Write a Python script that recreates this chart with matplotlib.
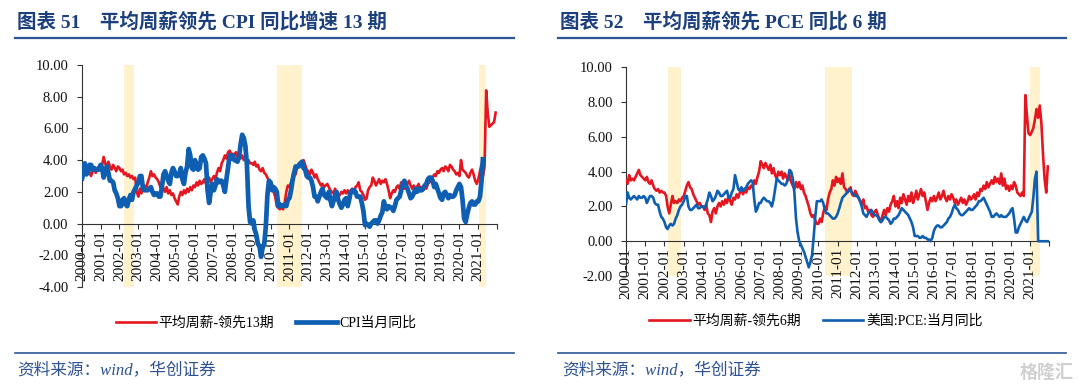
import numpy as np
import pandas as pd
import matplotlib
matplotlib.use("Agg")
import matplotlib.pyplot as plt
from matplotlib.lines import Line2D

SERIF_CJK = ['Liberation Serif', 'Noto Sans CJK SC']

# ---- data (monthly, starting 2000-01) ----
wage_lead13 = [
    3.3, 3.0, 3.4, 3.1, 3.5, 3.2, 3.0, 3.3, 3.4, 3.2, 3.5, 3.6,
    3.6, 3.7, 4.2, 3.8, 3.5, 3.9, 3.6, 3.4, 3.7, 3.5, 3.3, 3.6,
    3.5, 3.3, 3.4, 3.1, 3.2, 3.0, 3.1, 2.9, 3.0, 2.8, 2.9, 2.0,
    1.7, 2.2, 1.9, 2.3, 2.4, 2.2, 2.6, 2.9, 3.3, 3.0, 3.1, 2.9,
    2.8, 2.6, 2.3, 2.5, 2.2, 2.0, 2.3, 1.9, 2.1, 1.8, 1.9, 1.6,
    1.4, 1.2, 1.7, 2.0, 1.8, 2.1, 1.9, 2.2, 2.0, 2.3, 2.1, 2.4,
    2.3, 2.6, 2.4, 2.7, 2.5, 2.6, 2.8, 2.5, 2.7, 2.9, 2.6, 2.8,
    3.0, 2.8, 3.2, 3.5, 3.3, 3.8, 4.0, 4.3, 4.1, 4.5, 4.6, 4.4,
    4.4, 4.3, 4.5, 4.2, 4.4, 4.1, 4.3, 4.0, 4.2, 3.9, 4.0, 3.8,
    3.8, 3.7, 3.9, 3.6, 3.7, 3.4, 3.3, 3.5, 3.2, 3.1, 2.9, 2.7,
    2.6, 2.3, 2.0, 1.7, 1.1, 1.0, 0.9, 1.0, 0.9, 1.3, 2.0, 2.4,
    2.3, 2.6, 2.9, 3.3, 3.1, 3.6, 3.8, 3.7, 3.9, 4.0, 3.7, 3.4,
    3.3, 3.1, 3.4, 3.2, 2.9, 3.1, 2.8, 2.6, 2.4, 2.5, 2.3, 2.4,
    2.5, 2.3, 2.1, 2.0, 1.9, 2.2, 1.9, 1.7, 1.8, 2.0, 1.9, 2.1,
    1.9, 2.1, 1.8, 2.0, 2.2, 1.9, 2.3, 2.4, 2.6, 2.1, 2.0, 1.8,
    1.5, 1.6, 2.1, 2.3, 2.4, 2.9, 2.7, 2.4, 2.6, 2.8, 2.5, 2.7,
    2.6, 2.8, 2.5, 2.1, 1.6, 1.9, 2.1, 2.0, 2.3, 2.4, 2.2, 2.6,
    2.4, 2.2, 2.3, 2.5, 2.7, 2.4, 2.2, 2.4, 2.0, 2.3, 2.5, 2.2,
    2.3, 2.1, 2.4, 2.2, 2.5, 2.6, 2.8, 2.9, 3.1, 3.0, 3.3, 3.2,
    3.4, 3.5, 3.3, 3.6, 3.5, 3.3, 3.7, 3.6, 3.4, 3.3, 3.1, 3.2,
    3.0, 4.0, 3.4, 3.3, 3.2, 3.0, 2.9, 3.2, 3.4, 3.1, 2.7, 2.5,
    2.8, 3.3, 3.7, 3.0, 3.6, 8.4, 7.0, 6.1, 6.2, 6.3, 6.4, 7.0,
]

cpi_yoy = [
    2.7, 3.2, 3.8, 3.1, 3.2, 3.7, 3.7, 3.4, 3.5, 3.4, 3.4, 3.4,
    3.7, 3.5, 2.9, 3.3, 3.6, 3.2, 2.7, 2.7, 2.6, 2.1, 1.9, 1.6,
    1.1, 1.1, 1.5, 1.6, 1.2, 1.1, 1.5, 1.8, 1.5, 2.0, 2.2, 2.4,
    2.6, 3.0, 3.0, 2.2, 2.1, 2.1, 2.1, 2.2, 2.3, 2.0, 1.8, 1.9,
    1.9, 1.7, 1.7, 2.3, 3.1, 3.3, 3.0, 2.7, 2.5, 3.2, 3.5, 3.3,
    3.0, 3.0, 3.1, 3.5, 2.8, 2.5, 3.2, 3.6, 4.7, 4.3, 3.5, 3.4,
    4.0, 3.6, 3.4, 3.5, 4.2, 4.3, 4.1, 3.8, 2.1, 1.3, 2.0, 2.5,
    2.1, 2.4, 2.8, 2.6, 2.7, 2.7, 2.4, 2.0, 2.8, 3.5, 4.3, 4.1,
    4.3, 4.0, 4.0, 3.9, 4.2, 5.0, 5.6, 5.4, 4.9, 3.7, 1.1, 0.1,
    0.0, 0.2, -0.4, -0.7, -1.3, -1.4, -2.1, -1.5, -1.3, -0.2, 1.8, 2.7,
    2.6, 2.1, 2.3, 2.2, 2.0, 1.1, 1.2, 1.1, 1.1, 1.2, 1.1, 1.5,
    1.6, 2.1, 2.7, 3.2, 3.6, 3.6, 3.6, 3.8, 3.9, 3.5, 3.4, 3.0,
    2.9, 2.9, 2.7, 2.3, 1.7, 1.7, 1.4, 1.7, 2.0, 2.2, 1.8, 1.7,
    1.6, 2.0, 1.5, 1.1, 1.4, 1.8, 2.0, 1.5, 1.2, 1.0, 1.2, 1.5,
    1.6, 1.1, 1.5, 2.0, 2.1, 2.1, 2.0, 1.7, 1.7, 1.7, 1.3, 0.8,
    -0.1, 0.0, -0.1, -0.2, 0.0, 0.1, 0.2, 0.2, 0.0, 0.2, 0.5, 0.7,
    1.4, 1.0, 0.9, 1.1, 1.0, 1.0, 0.8, 1.1, 1.5, 1.6, 1.7, 2.1,
    2.5, 2.7, 2.4, 2.2, 1.9, 1.6, 1.7, 1.9, 2.2, 2.0, 2.2, 2.1,
    2.1, 2.2, 2.4, 2.5, 2.8, 2.9, 2.9, 2.7, 2.3, 2.5, 2.2, 1.9,
    1.6, 1.5, 1.9, 2.0, 1.8, 1.6, 1.8, 1.7, 1.7, 1.8, 2.1, 2.3,
    2.5, 2.3, 1.5, 0.3, 0.1, 0.6, 1.0, 1.3, 1.4, 1.2, 1.2, 1.4,
    1.4, 1.7, 2.6, 4.2,
]

wage_lead6 = [
    3.5, 3.3, 3.8, 3.5, 3.6, 3.5, 3.7, 3.9, 4.1, 3.8, 3.7, 3.6,
    3.5, 3.7, 3.4, 3.3, 3.5, 3.2, 3.0, 2.9, 3.0, 2.8, 2.9, 2.8,
    2.8, 2.6, 2.0, 1.6, 2.1, 2.6, 2.2, 2.3, 2.2, 2.4, 2.3, 2.5,
    2.6, 2.9, 3.2, 3.4, 3.1, 3.0, 2.7, 2.5, 2.3, 2.1, 2.2, 2.0,
    2.0, 1.8, 2.1, 1.6, 1.5, 1.1, 1.7, 1.9, 1.6, 2.0, 2.2, 2.0,
    2.3, 2.1, 2.4, 2.2, 2.6, 2.3, 2.1, 2.5, 2.4, 2.7, 2.5, 2.8,
    2.9, 2.7, 3.0, 2.8, 3.1, 3.0, 3.2, 3.1, 3.5, 3.3, 3.7, 4.0,
    4.6, 4.4, 4.2, 4.5, 4.3, 4.1, 4.4, 3.9, 4.2, 3.8, 3.6, 4.0,
    3.8, 4.0, 3.6, 3.9, 3.7, 3.5, 3.8, 3.4, 3.2, 3.0, 3.4, 3.1,
    3.4, 3.0, 3.2, 2.8, 2.6, 2.3, 2.0, 1.6, 1.4, 1.5, 1.2, 1.0,
    1.0, 1.3, 1.1, 1.6, 2.0, 1.8, 2.4, 2.8, 3.0, 3.5, 3.2, 3.7,
    3.4, 3.6, 3.3, 3.9, 3.1, 3.0, 2.8, 2.9, 3.1, 2.7, 2.6, 2.9,
    2.7, 2.5, 2.3, 2.1, 2.4, 1.9, 2.0, 1.7, 1.8, 1.5, 1.4, 1.7,
    1.8, 1.5, 1.3, 1.1, 1.5, 1.8, 1.5, 1.9, 1.7, 2.1, 2.3, 2.6,
    2.0, 2.3, 1.9, 2.5, 2.2, 2.7, 2.4, 2.1, 2.6, 2.3, 2.8, 2.2,
    2.5, 2.9, 2.4, 2.7, 3.0, 2.6, 2.8, 2.3, 1.8, 2.2, 2.5, 2.3,
    2.6, 2.3, 2.5, 2.8, 2.4, 2.6, 2.9, 2.5, 2.3, 2.6, 2.4, 2.7,
    2.5, 2.2, 2.4, 2.1, 2.3, 2.5, 2.2, 2.4, 2.1, 2.3, 2.6, 2.4,
    2.5, 2.7, 2.4, 2.8, 2.6, 3.0, 2.9, 3.2, 3.0, 3.4, 3.1, 3.3,
    3.5, 3.3, 3.7, 3.4, 3.6, 3.3, 3.9, 3.2, 3.6, 3.0, 3.2, 2.9,
    3.2, 3.0, 3.4, 3.2, 2.8, 2.7, 2.6, 2.8, 2.6, 8.4, 7.2, 6.2,
    6.1, 6.3, 6.5, 7.0, 7.6, 7.1, 7.8, 6.8, 5.0, 3.6, 2.8, 4.3,
]

pce_yoy = [
    2.1, 2.8, 2.5, 2.4, 2.5, 2.6, 2.5, 2.4, 2.6, 2.5, 2.5, 2.6,
    2.5, 2.2, 2.4, 2.6, 2.6, 2.5, 2.2, 2.1, 2.1, 1.7, 1.4, 1.3,
    1.1, 0.8, 0.7, 0.9, 1.0, 0.9, 1.0, 1.3, 1.5, 1.8, 2.0, 2.1,
    2.3, 2.6, 2.6, 2.0, 1.8, 1.8, 1.9, 2.0, 2.1, 1.9, 1.9, 2.0,
    2.0, 1.9, 2.1, 2.4, 2.8, 2.6, 2.3, 2.4, 2.6, 2.9, 2.8, 2.6,
    2.6, 2.7, 2.8, 2.9, 2.5, 2.5, 2.8, 3.0, 3.8, 3.4, 3.0, 2.9,
    3.1, 2.9, 3.0, 3.1, 3.3, 3.4, 3.5, 3.4, 2.4, 1.7, 1.9, 2.2,
    2.2, 2.4, 2.5, 2.4, 2.3, 2.3, 2.2, 2.0, 2.4, 3.0, 3.6, 3.5,
    3.4, 3.3, 3.3, 3.2, 3.3, 3.6, 4.1, 4.0, 3.6, 2.8, 1.3, 0.5,
    0.0, -0.2, -0.4, -0.6, -0.9, -1.2, -1.5, -1.2, -0.8, 0.2, 1.4, 2.3,
    2.3, 2.3, 2.4, 2.2, 1.8, 1.6, 1.6, 1.5, 1.4, 1.3, 1.3, 1.4,
    1.6, 1.9, 2.2, 2.5, 2.6, 2.7, 2.8, 3.0, 2.9, 2.8, 2.7, 2.6,
    2.6, 2.5, 2.3, 2.0, 1.6, 1.5, 1.4, 1.6, 1.7, 1.8, 1.6, 1.5,
    1.5, 1.4, 1.2, 1.1, 1.2, 1.4, 1.4, 1.3, 1.2, 1.0, 1.1, 1.3,
    1.3, 1.4, 1.5, 1.7, 1.9, 1.8, 1.7, 1.6, 1.5, 1.3, 1.1, 0.8,
    0.3, 0.3, 0.3, 0.2, 0.2, 0.3, 0.2, 0.2, 0.1, 0.1, 0.0, 0.2,
    0.6, 0.8, 0.9, 0.9, 0.8, 0.8, 0.9, 1.0, 1.1, 1.3, 1.4, 1.6,
    1.9, 2.1, 1.9, 1.8, 1.6, 1.5, 1.5, 1.6, 1.7, 1.8, 1.9, 1.8,
    1.8, 1.9, 2.0, 2.1, 2.3, 2.3, 2.4, 2.5, 2.3, 2.1, 1.9, 1.7,
    1.4, 1.4, 1.5, 1.6, 1.5, 1.4, 1.5, 1.4, 1.4, 1.4, 1.5, 1.6,
    1.8, 1.9, 1.3, 0.5, 0.5, 0.8, 1.0, 1.2, 1.4, 1.2, 1.1, 1.3,
    1.5, 1.7, 2.5, 3.6, 4.0, 0.0, 0.0, 0.0, 0.0, 0.0, 0.0, 0.0,
    0.0,
]

# shaded periods (start, end)
shade_left = [('2002-04-01', '2002-10-01'), ('2010-05-15', '2011-09-01'), ('2021-01-15', '2021-06-01')]
shade_right = [('2002-03-15', '2002-11-10'), ('2010-05-01', '2011-09-20'), ('2021-01-01', '2021-07-10')]

years = list(range(2000, 2023))
tick_labels = ['%d-01' % y for y in years[:-1]] + ['']

RED = '#E5161F'
BLUE = '#0E5EB2'
SHADE = '#FFF2CC'
NAVY = '#1C3F7D'


def months(vals):
    return pd.date_range('2000-01-01', periods=len(vals), freq='MS')


def draw_panel(fig, rect, red, blue, ylo, shades, red_lw, blue_lw):
    ax = fig.add_axes(rect)
    # spine position first: moving it resets the tick labels
    for side in ('top', 'right'):
        ax.spines[side].set_visible(False)
    ax.spines['bottom'].set_position(('data', 0))
    for side in ('left', 'bottom'):
        ax.spines[side].set_color('#333333')
        ax.spines[side].set_linewidth(0.8)

    for s, e in shades:
        ax.axvspan(pd.Timestamp(s), pd.Timestamp(e), color=SHADE, lw=0, zorder=0)
    ax.plot(months(red), red, color=RED, lw=red_lw, zorder=3)
    ax.plot(months(blue), blue, color=BLUE, lw=blue_lw, zorder=4, solid_capstyle='butt')
    ax.set_xlim(pd.Timestamp('2000-01-01'), pd.Timestamp('2022-01-01'))
    ax.set_ylim(ylo, 10)

    yt = np.arange(ylo, 10.01, 2)
    ax.set_yticks(yt)
    ax.set_yticklabels(['%.2f' % v for v in yt], family='Liberation Serif', fontsize=10.5)
    ax.set_xticks([pd.Timestamp('%d-01-01' % y) for y in years])
    ax.set_xticklabels(tick_labels, family='Liberation Serif', fontsize=11)
    ax.tick_params(axis='both', direction='out', length=3.5, width=0.8, color='#333333',
                   labelcolor='#111111')
    ax.tick_params(axis='y', pad=6)
    ax.tick_params(axis='x', pad=1.5, labelrotation=90)
    ax.patch.set_alpha(0)
    return ax


fig = plt.figure(figsize=(10.8, 3.91), dpi=100)

draw_panel(fig, [0.0756, 0.266, 0.3848, 0.5678], wage_lead13, cpi_yoy, -4,
           shade_left, 1.9, 3.4)
draw_panel(fig, [0.5796, 0.2941, 0.3921, 0.5338], wage_lead6, pce_yoy, -2,
           shade_right, 1.9, 1.9)

# titles and rules
fig.text(17 / 1080, 1 - 22 / 391, '图表 51    平均周薪领先 CPI 同比增速 13 期',
         family=SERIF_CJK, fontsize=14, weight='bold', color=NAVY, va='center')
fig.text(560 / 1080, 1 - 22 / 391, '图表 52    平均周薪领先 PCE 同比 6 期',
         family=SERIF_CJK, fontsize=14, weight='bold', color=NAVY, va='center')
for x0, x1 in [(15, 514), (558, 1066)]:
    for yy, lw in [(38, 1.6), (352.5, 1.2)]:
        fig.add_artist(Line2D([x0 / 1080, x1 / 1080], [1 - yy / 391, 1 - yy / 391],
                              color='#2B5597', lw=lw))

# legends
leg_kw = dict(loc='center', ncol=2, frameon=False, handlelength=2.9, handletextpad=0.2,
              columnspacing=1.6, prop={'family': SERIF_CJK, 'size': 10})
fig.legend([Line2D([], [], color=RED, lw=1.9), Line2D([], [], color=BLUE, lw=3.4)],
           ['平均周薪-领先13期', 'CPI当月同比'],
           bbox_to_anchor=(266 / 1080, 1 - 323 / 391), **leg_kw)
fig.legend([Line2D([], [], color=RED, lw=1.9), Line2D([], [], color=BLUE, lw=1.9)],
           ['平均周薪-领先6期', '美国:PCE:当月同比'],
           bbox_to_anchor=(816 / 1080, 1 - 321 / 391), **leg_kw)

# source notes
for x in (17, 562):
    fig.text(x / 1080, 1 - 370 / 391, '资料来源：wind，华创证券', family=SERIF_CJK,
             fontsize=12, style='italic', color='#2D5193', va='center')
fig.text(1074 / 1080, 1 - 372 / 391, '格隆汇', family=['Noto Sans CJK SC'], fontsize=13,
         weight='bold', color='#D0D0D0', ha='right', va='center')

fig.savefig('out.png', dpi=100)
